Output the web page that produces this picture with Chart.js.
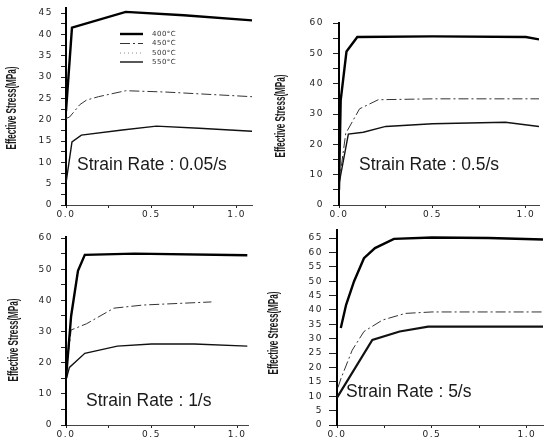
<!DOCTYPE html>
<html>
<head>
<meta charset="utf-8">
<script src="https://cdn.jsdelivr.net/npm/chart.js@4.4.1/dist/chart.umd.min.js"></script>
<style>
  body { margin: 0; background: #fff; width: 544px; height: 446px; overflow: hidden; }
  canvas { position: absolute; }
</style>
</head>
<body>
<script>
// Temperatures (legend)
const temps = ["400°C", "450°C", "500°C", "550°C"];
const yTitle = "Effective Stress(MPa)";

// Strain rate 0.05/s  -  [strain, stress]
const rate005_400 = [[0, 22], [0.035, 41.6], [0.35, 45.3], [0.69, 44.5], [1.09, 43.3]];
const rate005_450 = [[0, 20.3], [0.02, 20.6], [0.05, 22], [0.08, 23.5], [0.12, 24.6], [0.19, 25.4], [0.35, 26.8], [0.58, 26.5], [1.09, 25.4]];
const rate005_550 = [[0, 5.1], [0.035, 14.8], [0.09, 16.4], [0.33, 17.6], [0.53, 18.5], [0.78, 18.0], [1.09, 17.3]];

// Strain rate 0.5/s
const rate05_400 = [[0, 5], [0.009, 34.5], [0.04, 50.6], [0.098, 55.4], [0.5, 55.6], [1.0, 55.4], [1.07, 54.6]];
const rate05_450 = [[0, 7], [0.036, 23.6], [0.11, 31.7], [0.21, 34.7], [0.5, 35], [1.07, 35]];
const rate05_550 = [[0, 7], [0.05, 23.4], [0.13, 24.0], [0.25, 25.9], [0.5, 26.8], [0.89, 27.3], [1.07, 25.9]];

// Strain rate 1/s
const rate1_400 = [[0, 15], [0.03, 35], [0.07, 49.5], [0.11, 54.6], [0.4, 55], [1.06, 54.5]];
const rate1_450 = [[0, 17], [0.03, 30.5], [0.12, 32.5], [0.28, 37.5], [0.45, 38.5], [0.85, 39.5]];
const rate1_550 = [[0, 14.5], [0.02, 18.5], [0.11, 23], [0.3, 25.3], [0.5, 26], [0.75, 26], [1.06, 25.3]];

// Strain rate 5/s
const rate5_400 = [[0.02, 33.7], [0.048, 41.8], [0.09, 50], [0.142, 58], [0.2, 61.5], [0.3, 64.7], [0.5, 65.2], [0.8, 65], [1.085, 64.5]];
const rate5_450 = [[0.005, 13], [0.02, 16], [0.08, 26], [0.142, 32.5], [0.24, 36.5], [0.36, 38.8], [0.5, 39.3], [1.085, 39.3]];
const rate5_550 = [[0, 9.5], [0.186, 29.6], [0.33, 32.5], [0.48, 34.2], [1.085, 34.2]];

// x tick labels
const xTickLabels = ["0.0", "0.5", "1.0"];

// line look per temperature
const lineStyles = [
  { borderWidth: 2.4, borderDash: [], borderColor: "#000" },
  { borderWidth: 1, borderDash: [10, 3, 2, 3], borderColor: "#333" },
  { borderWidth: 1, borderDash: [1, 3], borderColor: "#888" },
  { borderWidth: 1.4, borderDash: [], borderColor: "#111" }
];

// panel layout (page pixels)
const panels = [
  { left: 0, top: 0, w: 272, h: 223, axisW: 66, padTop: 8, padRight: 20, xH: 18,
    xMax: 1.09, yMax: 46.2, yStep: 2.5, yEvery: 5, yTick: 5, yPad: 8,
    series: [rate005_400, rate005_450, [], rate005_550], w550: 1.4,
    note: "Strain Rate : 0.05/s", noteX: 77, noteY: 165, titleX: 12, titleY: 108, legend: true },
  { left: 272, top: 0, w: 272, h: 223, axisW: 67, padTop: 23, padRight: 5, xH: 18,
    xMax: 1.07, yMax: 60, yStep: 5, yEvery: 10, yTick: 6, yPad: 9,
    series: [rate05_400, rate05_450, [], rate05_550], w550: 1.4,
    note: "Strain Rate : 0.5/s", noteX: 87, noteY: 165, titleX: 9, titleY: 116 },
  { left: 0, top: 223, w: 272, h: 223, axisW: 66, padTop: 13.5, padRight: 24, xH: 21,
    xMax: 1.064, yMax: 60.5, yStep: 5, yEvery: 10, yTick: 5, yPad: 8,
    series: [rate1_400, rate1_450, [], rate1_550], w550: 1.4,
    note: "Strain Rate : 1/s", noteX: 86, noteY: 178, titleX: 14, titleY: 117 },
  { left: 262, top: 223, w: 282, h: 223, axisW: 75, padTop: 6.7, padRight: 1, xH: 21,
    xMax: 1.085, yMax: 67.9, yStep: 5, yEvery: 5, yTick: 8, yPad: 6,
    series: [rate5_400, rate5_450, [], rate5_550], w550: 2.2,
    note: "Strain Rate : 5/s", noteX: 84, noteY: 169, titleX: 12, titleY: 110 }
];

const tickFont = { family: "'DejaVu Sans', sans-serif", size: 9 };

// titles, note text and legend drawn on top of each panel
const panelDecor = {
  id: "panelDecor",
  beforeDraw(chart) { chart.ctx.letterSpacing = "1.5px"; },
  beforeDatasetsDraw(chart) { chart.ctx.letterSpacing = "0px"; },
  afterDraw(chart, args, opts) {
    const ctx = chart.ctx;
    ctx.save();
    ctx.letterSpacing = "0px";
    ctx.fillStyle = "#1a1a1a";

    // y axis title, squeezed like the scan
    ctx.save();
    ctx.font = "bold 14px 'Liberation Sans', Arial, sans-serif";
    ctx.textAlign = "center";
    ctx.textBaseline = "middle";
    const tw = ctx.measureText(yTitle).width;
    ctx.translate(opts.titleX, opts.titleY);
    ctx.rotate(-Math.PI / 2);
    ctx.scale(83 / tw, 1);
    ctx.fillText(yTitle, 0, 0);
    ctx.restore();

    // strain rate note
    ctx.font = "17.5px 'Liberation Sans', Arial, sans-serif";
    ctx.textAlign = "left";
    ctx.textBaseline = "middle";
    ctx.fillText(opts.note, opts.noteX, opts.noteY);

    // legend
    if (opts.legend) {
      const ys = [34, 43.5, 53, 62];
      ctx.font = "7px 'DejaVu Sans', sans-serif";
      ctx.letterSpacing = "0.5px";
      chart.data.datasets.forEach((ds, i) => {
        ctx.save();
        ctx.strokeStyle = ds.borderColor;
        ctx.lineWidth = ds.borderWidth;
        ctx.setLineDash(ds.borderDash);
        ctx.beginPath();
        ctx.moveTo(120, ys[i]);
        ctx.lineTo(143, ys[i]);
        ctx.stroke();
        ctx.restore();
        ctx.fillStyle = "#333";
        ctx.fillText(ds.label, 152, ys[i]);
      });
    }
    ctx.restore();
  }
};

function makePanel(p) {
  const canvas = document.createElement("canvas");
  canvas.width = p.w;
  canvas.height = p.h;
  canvas.style.left = p.left + "px";
  canvas.style.top = p.top + "px";
  document.body.appendChild(canvas);

  const datasets = temps.map((t, i) => ({
    label: t,
    data: p.series[i].map(pt => ({ x: pt[0], y: pt[1] })),
    borderColor: lineStyles[i].borderColor,
    borderWidth: i === 3 ? p.w550 : lineStyles[i].borderWidth,
    borderDash: lineStyles[i].borderDash,
    pointRadius: 0,
    tension: 0,
    fill: false
  }));

  new Chart(canvas, {
    type: "line",
    data: { datasets },
    options: {
      responsive: false,
      animation: false,
      events: [],
      layout: { padding: { left: 0, top: p.padTop, right: p.padRight, bottom: 0 } },
      plugins: {
        legend: { display: false },
        tooltip: { enabled: false },
        panelDecor: p
      },
      scales: {
        x: {
          type: "linear",
          min: 0,
          max: p.xMax,
          border: { display: true, color: "#444", width: 1, dash: [5, 2] },
          grid: { display: true, drawOnChartArea: false, drawTicks: true, tickLength: 3, color: "#222" },
          ticks: {
            stepSize: 0.25,
            includeBounds: false,
            autoSkip: false,
            maxRotation: 0,
            padding: 1,
            color: "#222",
            font: tickFont,
            callback: v => {
              const k = Math.round(v * 2);
              return Math.abs(v * 2 - k) < 1e-6 ? xTickLabels[k] : "";
            }
          },
          afterFit: s => { s.height = p.xH; s.paddingLeft = 0; s.paddingRight = 0; }
        },
        y: {
          min: 0,
          max: p.yMax,
          border: { display: true, color: "#000", width: 2 },
          grid: { display: true, drawOnChartArea: false, drawTicks: true, tickLength: p.yTick, color: "#222" },
          ticks: {
            stepSize: p.yStep,
            includeBounds: false,
            autoSkip: false,
            padding: p.yPad,
            color: "#222",
            font: tickFont,
            callback: v => (Math.abs(v % p.yEvery) < 1e-6 ? String(v) : "")
          },
          afterFit: s => { s.width = p.axisW; s.paddingTop = 0; s.paddingBottom = 0; }
        }
      }
    },
    plugins: [panelDecor]
  });
}

panels.forEach(makePanel);
</script>
</body>
</html>
